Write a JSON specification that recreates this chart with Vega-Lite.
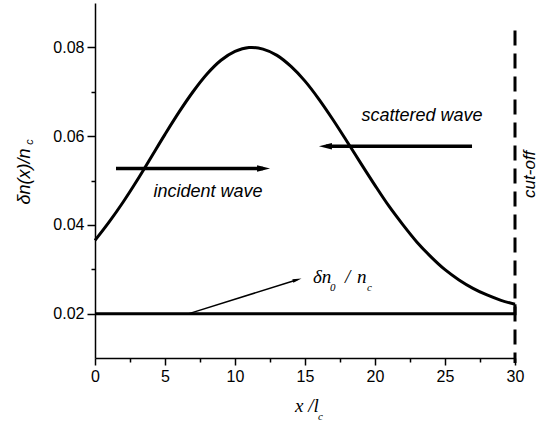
{
  "$schema": "https://vega.github.io/schema/vega-lite/v6.json",
  "width": 420,
  "height": 355,
  "autosize": {"type": "none"},
  "padding": {"left": 95, "top": 3, "right": 23, "bottom": 65},
  "background": "white",
  "config": {"view": {"stroke": null}, "font": "Liberation Sans"},
  "datasets": {
    "curve": [
      {"x": 0, "y": 0.0365}, {"x": 1, "y": 0.0406}, {"x": 2, "y": 0.0451}, {"x": 3, "y": 0.0500},
      {"x": 4, "y": 0.0552}, {"x": 5, "y": 0.0604}, {"x": 6, "y": 0.0654}, {"x": 7, "y": 0.0700},
      {"x": 8, "y": 0.0740}, {"x": 9, "y": 0.0771}, {"x": 10, "y": 0.0791}, {"x": 11, "y": 0.07998},
      {"x": 11.2, "y": 0.0800}, {"x": 12, "y": 0.0796}, {"x": 13, "y": 0.0782}, {"x": 14, "y": 0.0757},
      {"x": 15, "y": 0.0724}, {"x": 16, "y": 0.0683}, {"x": 17, "y": 0.0637}, {"x": 18, "y": 0.0588},
      {"x": 19, "y": 0.0538}, {"x": 20, "y": 0.0489}, {"x": 21, "y": 0.0442}, {"x": 22, "y": 0.0400},
      {"x": 23, "y": 0.0361}, {"x": 24, "y": 0.0328}, {"x": 25, "y": 0.0299}, {"x": 26, "y": 0.0276},
      {"x": 27, "y": 0.0257}, {"x": 28, "y": 0.0242}, {"x": 29, "y": 0.0230}, {"x": 30, "y": 0.0221}
    ],
    "base": [
      {"x": 0, "y": 0.02, "o": 1}, {"x": 30, "y": 0.02, "o": 2}, {"x": 30, "y": 0.0221, "o": 3}
    ],
    "cutoff": [{"x": 30, "y": 0.0838}, {"x": 30, "y": 0.0089}],
    "thick": [
      {"id": "inc", "x": 1.5, "y": 0.0527}, {"id": "inc", "x": 12.0, "y": 0.0527},
      {"id": "sca", "x": 26.93, "y": 0.0577}, {"id": "sca", "x": 16.5, "y": 0.0577}
    ],
    "thin": [{"x": 6.71, "y": 0.02}, {"x": 14.44, "y": 0.02765}],
    "headR": [{"x": 12.04, "y": 0.0527}],
    "headL": [{"x": 16.46, "y": 0.0577}],
    "headT": [{"x": 14.44, "y": 0.02765}],
    "sansText": [
      {"t": "incident wave", "x": 8.07, "y": 0.0462},
      {"t": "scattered wave", "x": 23.36, "y": 0.0635}
    ],
    "cutText": [{"t": "cut-off", "x": 31.43, "y": 0.0514}],
    "yTitle": [{"t": "δn(x)/n", "x": -4.64, "y": 0.0509}],
    "yTitleSub": [{"t": "c", "x": -4.43, "y": 0.0587}],
    "serifText": [
      {"t": "δn", "x": 15.57, "y": 0.0270},
      {"t": "/", "x": 17.86, "y": 0.0270},
      {"t": "n", "x": 18.71, "y": 0.0270},
      {"t": "x /l", "x": 14.29, "y": -0.0021}
    ],
    "serifSub": [
      {"t": "0", "x": 16.79, "y": 0.0252},
      {"t": "c", "x": 19.43, "y": 0.0252},
      {"t": "c", "x": 15.93, "y": -0.0039}
    ]
  },
  "resolve": {"axis": {"x": "independent", "y": "independent"}},
  "layer": [
    {
      "data": {"name": "curve"},
      "mark": {"type": "line", "color": "black", "strokeWidth": 3, "interpolate": "monotone"},
      "encoding": {
        "x": {"field": "x", "type": "quantitative",
          "scale": {"domain": [0, 30], "nice": false, "zero": false},
          "axis": {"orient": "bottom", "title": null, "values": [0, 5, 10, 15, 20, 25, 30], "format": "d",
            "grid": false, "domainColor": "black", "domainWidth": 1.5, "tickColor": "black", "tickWidth": 1.5,
            "tickSize": 7, "labelFontSize": 16, "labelColor": "black", "labelPadding": 3, "labelFlush": false,
            "labelOverlap": false, "labelFont": "Liberation Sans"}},
        "y": {"field": "y", "type": "quantitative",
          "scale": {"domain": [0.01, 0.09], "nice": false, "zero": false},
          "axis": {"orient": "left", "title": null, "values": [0.02, 0.04, 0.06, 0.08], "format": ".2f",
            "grid": false, "domainColor": "black", "domainWidth": 1.5, "tickColor": "black", "tickWidth": 1.5,
            "tickSize": 8, "labelFontSize": 16, "labelColor": "black", "labelPadding": 3, "labelFlush": false,
            "labelOverlap": false, "labelFont": "Liberation Sans"}}
      }
    },
    {
      "data": {"name": "base"},
      "mark": {"type": "line", "color": "black", "strokeWidth": 3},
      "encoding": {
        "x": {"field": "x", "type": "quantitative",
          "axis": {"orient": "bottom", "title": null, "values": [2.5, 7.5, 12.5, 17.5, 22.5, 27.5],
            "labels": false, "domain": false, "grid": false, "tickColor": "black", "tickWidth": 1.5, "tickSize": 4}},
        "y": {"field": "y", "type": "quantitative",
          "axis": {"orient": "left", "title": null, "values": [0.03, 0.05, 0.07],
            "labels": false, "domain": false, "grid": false, "tickColor": "black", "tickWidth": 1.5, "tickSize": 4}},
        "order": {"field": "o", "type": "quantitative"}
      }
    },
    {
      "data": {"name": "cutoff"},
      "mark": {"type": "line", "color": "black", "strokeWidth": 3, "strokeDash": [15, 8], "clip": false},
      "encoding": {
        "x": {"field": "x", "type": "quantitative", "axis": null},
        "y": {"field": "y", "type": "quantitative", "axis": null}
      }
    },
    {
      "data": {"name": "thick"},
      "mark": {"type": "line", "color": "black", "strokeWidth": 3.5},
      "encoding": {
        "x": {"field": "x", "type": "quantitative", "axis": null},
        "y": {"field": "y", "type": "quantitative", "axis": null},
        "detail": {"field": "id"}
      }
    },
    {
      "data": {"name": "thin"},
      "mark": {"type": "line", "color": "black", "strokeWidth": 1.5},
      "encoding": {
        "x": {"field": "x", "type": "quantitative", "axis": null},
        "y": {"field": "y", "type": "quantitative", "axis": null}
      }
    },
    {
      "data": {"name": "headR"},
      "mark": {"type": "point", "shape": "M1,0L-1,-0.5L-1,0.5Z", "filled": true, "color": "black", "opacity": 1, "size": 169},
      "encoding": {
        "x": {"field": "x", "type": "quantitative", "axis": null},
        "y": {"field": "y", "type": "quantitative", "axis": null}
      }
    },
    {
      "data": {"name": "headL"},
      "mark": {"type": "point", "shape": "M-1,0L1,-0.5L1,0.5Z", "filled": true, "color": "black", "opacity": 1, "size": 169},
      "encoding": {
        "x": {"field": "x", "type": "quantitative", "axis": null},
        "y": {"field": "y", "type": "quantitative", "axis": null}
      }
    },
    {
      "data": {"name": "headT"},
      "mark": {"type": "point", "shape": "M1,0L-1,-0.4L-1,0.4Z", "filled": true, "color": "black", "opacity": 1, "size": 81, "angle": -16},
      "encoding": {
        "x": {"field": "x", "type": "quantitative", "axis": null},
        "y": {"field": "y", "type": "quantitative", "axis": null}
      }
    },
    {
      "data": {"name": "sansText"},
      "mark": {"type": "text", "font": "Liberation Sans", "fontStyle": "italic", "fontSize": 18, "color": "black", "align": "center", "baseline": "alphabetic"},
      "encoding": {
        "x": {"field": "x", "type": "quantitative", "axis": null},
        "y": {"field": "y", "type": "quantitative", "axis": null},
        "text": {"field": "t"}
      }
    },
    {
      "data": {"name": "cutText"},
      "mark": {"type": "text", "font": "Liberation Sans", "fontStyle": "italic", "fontSize": 17, "color": "black", "align": "center", "baseline": "alphabetic", "angle": 270},
      "encoding": {
        "x": {"field": "x", "type": "quantitative", "axis": null},
        "y": {"field": "y", "type": "quantitative", "axis": null},
        "text": {"field": "t"}
      }
    },
    {
      "data": {"name": "yTitle"},
      "mark": {"type": "text", "font": "Liberation Sans", "fontStyle": "italic", "fontSize": 18, "color": "black", "align": "center", "baseline": "alphabetic", "angle": 270},
      "encoding": {
        "x": {"field": "x", "type": "quantitative", "axis": null},
        "y": {"field": "y", "type": "quantitative", "axis": null},
        "text": {"field": "t"}
      }
    },
    {
      "data": {"name": "yTitleSub"},
      "mark": {"type": "text", "font": "Liberation Sans", "fontStyle": "italic", "fontSize": 11, "color": "black", "align": "center", "baseline": "alphabetic", "angle": 270},
      "encoding": {
        "x": {"field": "x", "type": "quantitative", "axis": null},
        "y": {"field": "y", "type": "quantitative", "axis": null},
        "text": {"field": "t"}
      }
    },
    {
      "data": {"name": "serifText"},
      "mark": {"type": "text", "font": "Liberation Serif", "fontStyle": "italic", "fontSize": 19, "color": "black", "align": "left", "baseline": "alphabetic"},
      "encoding": {
        "x": {"field": "x", "type": "quantitative", "axis": null},
        "y": {"field": "y", "type": "quantitative", "axis": null},
        "text": {"field": "t"}
      }
    },
    {
      "data": {"name": "serifSub"},
      "mark": {"type": "text", "font": "Liberation Serif", "fontStyle": "italic", "fontSize": 11, "color": "black", "align": "left", "baseline": "alphabetic"},
      "encoding": {
        "x": {"field": "x", "type": "quantitative", "axis": null},
        "y": {"field": "y", "type": "quantitative", "axis": null},
        "text": {"field": "t"}
      }
    }
  ]
}
